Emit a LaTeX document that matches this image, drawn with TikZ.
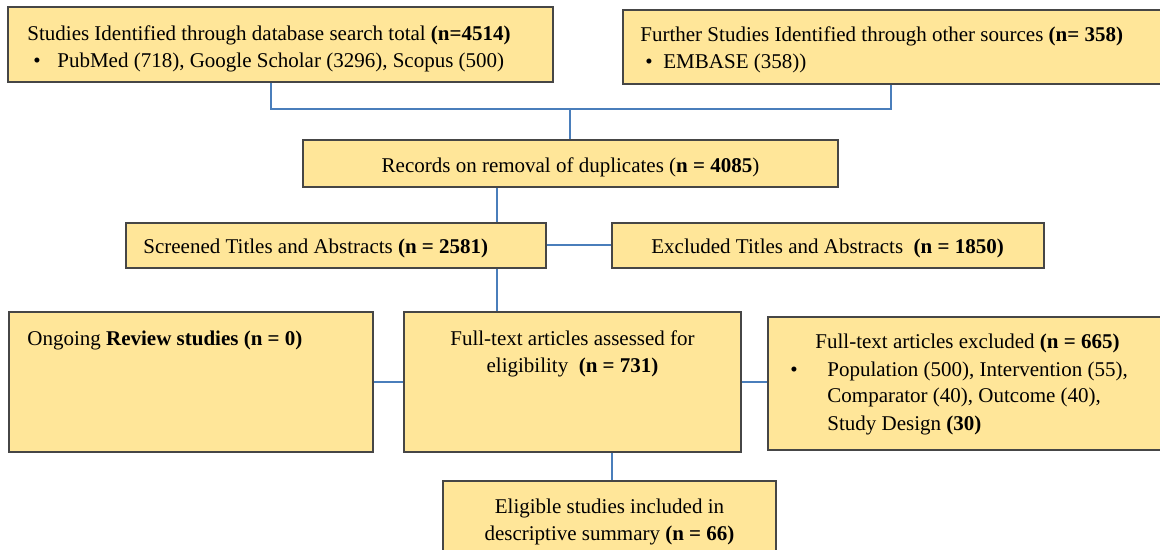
\documentclass[tikz,border=0pt]{standalone}
\usepackage{fontspec}
\setmainfont{Liberation Serif}
\usetikzlibrary{calc}
\definecolor{boxfill}{RGB}{255,230,153}
\definecolor{boxline}{RGB}{70,70,70}
\definecolor{linkblue}{RGB}{74,126,187}
\newcommand{\flowfont}{\fontsize{10.5}{13.5}\selectfont}

\begin{document}
\begin{tikzpicture}[x=0.5pt,y=-0.5pt,
    box/.style={draw=boxline,fill=boxfill,line width=0.55pt,inner sep=0pt},
    txt/.style={inner sep=0pt,font=\flowfont},
    link/.style={draw=linkblue,line width=0.75pt}]
    \useasboundingbox (0,0) rectangle (1160,550);
    \clip (0,0) rectangle (1160,550);
    % boxes
    \node[box,minimum width=272.5pt,minimum height=37.5pt] at (280.5,44.5) (db) {};
    \node[box,minimum width=269pt,minimum height=37pt] at (892,47) (other) {};
    \node[box,minimum width=267.5pt,minimum height=23.5pt] at (570.5,163.5) (dup) {};
    \node[box,minimum width=210pt,minimum height=22.5pt] at (336,245.5) (screen) {};
    \node[box,minimum width=216pt,minimum height=22.5pt] at (828,245.5) (exclta) {};
    \node[box,minimum width=182pt,minimum height=70pt] at (191,382) (ongoing) {};
    \node[box,minimum width=168.5pt,minimum height=70pt] at (572.5,382) (full) {};
    \node[box,minimum width=196.5pt,minimum height=66.5pt] at (964.5,383.5) (exclft) {};
    \node[box,minimum width=166.5pt,minimum height=44.5pt] at (609.5,525.5) (eligible) {};
    % texts
    \node[txt,anchor=base west] at (27,41) (dbtxt) {\begin{tabular}[t]{@{}p{15pt}@{}l@{}}
        \multicolumn{2}{@{}l@{}}{Studies Identified through database search total \textbf{(n=4514)}}\\
        \hspace*{3pt}\textbullet & PubMed (718), Google Scholar (3296), Scopus (500)
        \end{tabular}};
    \node[txt,anchor=base west] at (640,42) (othertxt) {\begin{tabular}[t]{@{}p{11.5pt}@{}l@{}}
        \multicolumn{2}{@{}l@{}}{Further Studies Identified through other sources \textbf{(n= 358)}}\\
        \hspace*{2.5pt}\textbullet & EMBASE (358))
        \end{tabular}};
    \node[txt,anchor=base] at (dup.center |- 0,173) (duptxt) {Records on removal of duplicates (\textbf{n = 4085})};
    \node[txt,anchor=base west] at (143,254) (screentxt) {Screened Titles and Abstracts \textbf{(n = 2581)}};
    \node[txt,anchor=base west] at (651,254) (excltatxt) {Excluded Titles and Abstracts~~\textbf{(n = 1850)}};
    \node[txt,anchor=base west] at (27,345) (ongoingtxt) {Ongoing \textbf{Review studies (n = 0)}};
    \node[txt,anchor=base] at (full.center |- 0,345) (fulltxt) {\begin{tabular}[t]{@{}c@{}}
        Full-text articles assessed for\\
        eligibility~~\textbf{(n = 731)}
        \end{tabular}};
    \node[txt,anchor=base west] at (790,349) (exclfttxt) {\begin{tabular}[t]{@{}p{18.5pt}@{}l@{}}
        \multicolumn{2}{@{\hspace{12.5pt}}l@{}}{Full-text articles excluded \textbf{(n = 665)}}\\
        \textbullet & Population (500), Intervention (55),\\
         & Comparator (40), Outcome (40),\\
         & Study Design \textbf{(30)}
        \end{tabular}};
    \node[txt,anchor=base] at (eligible.center |- 0,513) (eligibletxt) {\begin{tabular}[t]{@{}c@{}}
        Eligible studies included in\\
        descriptive summary \textbf{(n = 66)}
        \end{tabular}};
    % connectors
    \coordinate (jl) at (271,109);
    \coordinate (jr) at (891,109);
    \coordinate (jm) at (570,109);
    \coordinate (sp) at (497,0);
    \coordinate (sx) at (0,245);
    \coordinate (ex) at (612,0);
    \draw[link] (db.south -| jl) -- (jl) -- (jr) -- (other.south -| jr);
    \draw[link] (jm) -- (dup.north -| jm);
    \draw[link] (dup.south -| sp) -- (screen.north -| sp);
    \draw[link] (screen.east |- sx) -- (exclta.west |- sx);
    \draw[link] (screen.south -| sp) -- (full.north -| sp);
    \draw[link] (ongoing.east) -- (full.west);
    \draw[link] (full.east) -- (full.east -| exclft.west);
    \draw[link] (full.south -| ex) -- (eligible.north -| ex);
\end{tikzpicture}
\end{document}
